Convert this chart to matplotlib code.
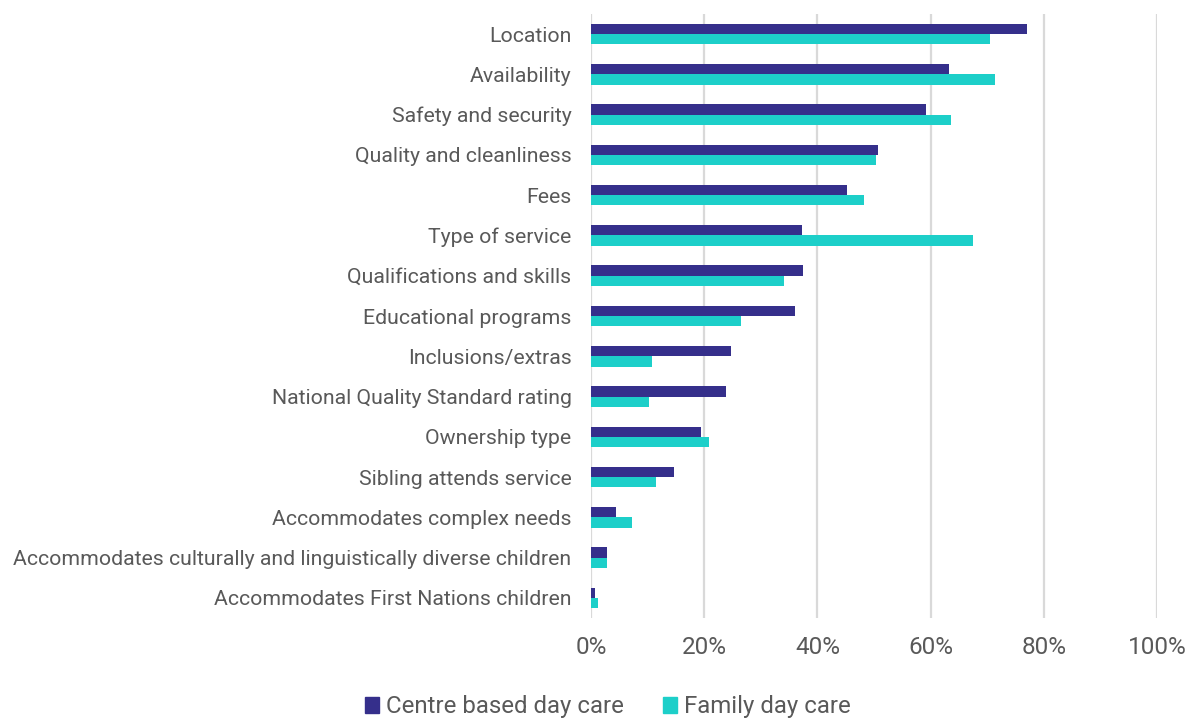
import numpy as np
import matplotlib
matplotlib.use("Agg")
import matplotlib.pyplot as plt
from matplotlib.patches import Patch

plt.rcParams["font.family"] = ["Roboto", "DejaVu Sans"]

# --- Data ---
categories = [
    "Location",
    "Availability",
    "Safety and security",
    "Quality and cleanliness",
    "Fees",
    "Type of service",
    "Qualifications and skills",
    "Educational programs",
    "Inclusions/extras",
    "National Quality Standard rating",
    "Ownership type",
    "Sibling attends service",
    "Accommodates complex needs",
    "Accommodates culturally and linguistically diverse children",
    "Accommodates First Nations children",
]
centre_based = [77.0, 63.3, 59.1, 50.7, 45.2, 37.2, 37.4, 36.0, 24.7, 23.8, 19.4, 14.6, 4.5, 2.8, 0.7]
family_day = [70.5, 71.4, 63.6, 50.4, 48.2, 67.5, 34.1, 26.5, 10.7, 10.3, 20.8, 11.5, 7.2, 2.9, 1.2]
series_names = ["Centre based day care", "Family day care"]
x_ticks = [0, 20, 40, 60, 80, 100]

navy = "#352F8B"
teal = "#1DCFC9"
text_col = "#595959"

# --- Plot ---
fig = plt.figure(figsize=(11.87, 7.18), dpi=100)
ax = fig.add_axes([591 / 1187, 1 - 618 / 718, 566 / 1187, 604 / 718])

y = np.arange(len(categories))
h = 0.255
ax.barh(y - h / 2, centre_based, height=h, color=navy, zorder=3)
ax.barh(y + h / 2, family_day, height=h, color=teal, zorder=3)

ax.set_ylim(len(categories) - 0.5, -0.5)
ax.set_xlim(0, 100)
ax.set_yticks(y)
ax.set_yticklabels(categories, fontsize=15.3, color=text_col)
ax.set_xticks(x_ticks)
ax.set_xticklabels([f"{t}%" for t in x_ticks], fontsize=17.5, color=text_col)
ax.tick_params(axis="y", length=0, pad=14)
ax.tick_params(axis="x", length=0, pad=13)

ax.grid(axis="x", color="#d9d9d9", linewidth=1.6, zorder=0)
for s in ax.spines.values():
    s.set_visible(False)

handles = [Patch(color=navy), Patch(color=teal)]
fig.legend(handles, series_names, loc="center", bbox_to_anchor=(608 / 1187, 1 - 707 / 718),
           ncol=2, frameon=False, fontsize=17.3, labelcolor=text_col,
           handlelength=0.6, handleheight=0.6, handletextpad=0.3, columnspacing=1.6)

fig.savefig("out.png", dpi=100)
